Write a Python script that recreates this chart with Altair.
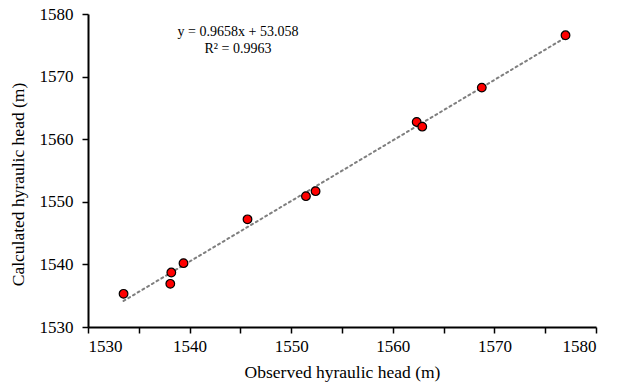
import altair as alt
import pandas as pd

observed = [1533.5, 1538.2, 1538.1, 1539.4, 1545.7, 1551.45, 1552.4, 1562.35, 1562.9, 1568.76, 1577.0]
calculated = [1535.3, 1538.7, 1536.9, 1540.2, 1547.2, 1550.9, 1551.7, 1562.75, 1562.0, 1568.24, 1576.6]
ticks = [1530, 1535, 1540, 1545, 1550, 1555, 1560, 1565, 1570, 1575, 1580]
eq_lines = ["y = 0.9658x + 53.058", "R² = 0.9963"]

df = pd.DataFrame({"obs": observed, "calc": calculated})

font = "Liberation Serif"
lbl = "datum.value % 10 == 0 ? format(datum.value, 'd') : ''"

xax = alt.Axis(values=ticks, labelExpr=lbl, grid=False, domainColor="black", domainWidth=2,
               tickColor="black", tickWidth=1.5, tickSize=6, labelFont=font, labelFontSize=17,
               labelColor="black", titleFont=font, titleFontSize=17.5, titleFontWeight="normal",
               titleColor="black", labelPadding=5, titlePadding=9)
yax = alt.Axis(values=ticks, labelExpr=lbl, grid=False, domainColor="black", domainWidth=2,
               tickColor="black", tickWidth=1.5, tickSize=6, labelFont=font, labelFontSize=17,
               labelColor="black", titleFont=font, titleFontSize=17.5, titleFontWeight="normal",
               titleColor="black", labelPadding=9, titleX=-69.5, titleY=170,
               titleBaseline="middle", titleAlign="center", titleAngle=270)

xs = alt.Scale(domain=[1530, 1580], nice=False, zero=False)
ys = alt.Scale(domain=[1530, 1580], nice=False, zero=False)

base = alt.Chart(df)

trend = base.transform_regression("obs", "calc").mark_line(
    color="#7f7f7f", strokeWidth=2, strokeDash=[2, 3.5], strokeCap="round"
).encode(
    x=alt.X("obs:Q", scale=xs, axis=xax, title="Observed hyraulic head (m)"),
    y=alt.Y("calc:Q", scale=ys, axis=yax, title="Calculated hyraulic head (m)"),
)

pts = base.mark_point(filled=True, fill="#ff0000", stroke="black", strokeWidth=1.2,
                      size=75, opacity=1, shape="circle").encode(
    x=alt.X("obs:Q", scale=xs),
    y=alt.Y("calc:Q", scale=ys),
)

txt = alt.Chart(pd.DataFrame({"t": [eq_lines]})).mark_text(
    font=font, fontSize=14, color="black", align="center", baseline="middle", lineHeight=17
).encode(x=alt.value(150), y=alt.value(18), text="t:N")

chart = alt.layer(trend, pts, txt).properties(
    width=508, height=313,
    autosize=alt.AutoSizeParams(type="none"),
    padding={"left": 80, "top": 6, "right": 16, "bottom": 58},
).configure_view(stroke=None)

chart.save("out.html", embed_options={"renderer": "svg", "actions": False})
